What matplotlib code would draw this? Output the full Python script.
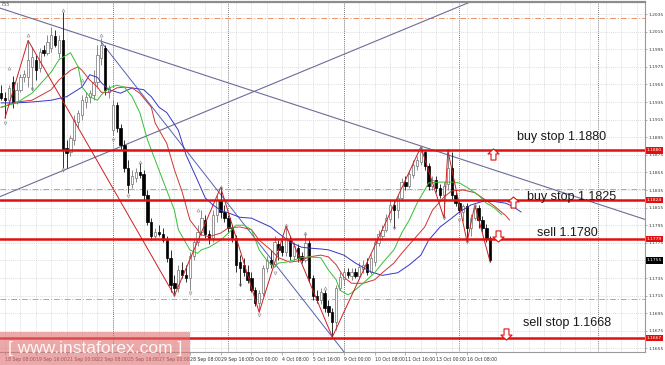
import matplotlib
matplotlib.use("Agg")
import matplotlib.pyplot as plt
import matplotlib.transforms as mtrans
from matplotlib.patches import Rectangle
from matplotlib.path import Path
import numpy as np

# ─── DATOS (EURUSD H4) ─────────────────────────────────────────────────────
first_bar = -1
opens = [1.1945, 1.1940, 1.1937, 1.1958, 1.1935, 1.1949, 1.1963, 1.1963, 1.1975, 1.1983,
         1.1974, 1.1994, 1.1991, 1.1996, 1.2010, 1.1991, 1.2005, 1.1883, 1.1878, 1.1892,
         1.1912, 1.1920, 1.1935, 1.1941, 1.1943, 1.1958, 1.1985, 1.1996, 1.1946, 1.1903,
         1.1932, 1.1905, 1.1886, 1.1860, 1.1842, 1.1849, 1.1855, 1.1853, 1.1829, 1.1799,
         1.1783, 1.1787, 1.1785, 1.1778, 1.1758, 1.1729, 1.1724, 1.1744, 1.1738, 1.1735,
         1.1760, 1.1776, 1.1787, 1.1801, 1.1785, 1.1780, 1.1807, 1.1824, 1.1810, 1.1803,
         1.1792, 1.1780, 1.1753, 1.1750, 1.1742, 1.1735, 1.1721, 1.1707, 1.1718, 1.1746,
         1.1755, 1.1751, 1.1774, 1.1771, 1.1765, 1.1778, 1.1760, 1.1769, 1.1760, 1.1755,
         1.1775, 1.1735, 1.1715, 1.1710, 1.1718, 1.1703, 1.1696, 1.1685, 1.1724, 1.1734,
         1.1742, 1.1737, 1.1742, 1.1737, 1.1745, 1.1751, 1.1742, 1.1753, 1.1775, 1.1783,
         1.1790, 1.1802, 1.1818, 1.1812, 1.1826, 1.1844, 1.1840, 1.1852, 1.1862, 1.1867,
         1.1878, 1.1862, 1.1840, 1.1846, 1.1837, 1.1829, 1.1842, 1.1860, 1.1829, 1.1820,
         1.1810, 1.1817, 1.1792, 1.1803, 1.1815, 1.1801, 1.1792, 1.1780]
highs = [1.1954, 1.1946, 1.1954, 1.1965, 1.1958, 1.1967, 1.1971, 1.2005, 1.1997, 1.1988,
         1.1996, 1.2000, 1.2011, 1.2020, 1.2017, 1.2011, 1.2037, 1.1892, 1.1897, 1.1920,
         1.1926, 1.1943, 1.1946, 1.1949, 1.1971, 1.2000, 1.2008, 1.2000, 1.1954, 1.1937,
         1.1935, 1.1910, 1.1892, 1.1869, 1.1858, 1.1860, 1.1866, 1.1858, 1.1835, 1.1803,
         1.1792, 1.1795, 1.1792, 1.1783, 1.1767, 1.1738, 1.1750, 1.1753, 1.1750, 1.1765,
         1.1780, 1.1795, 1.1812, 1.1807, 1.1790, 1.1812, 1.1829, 1.1838, 1.1818, 1.1807,
         1.1795, 1.1784, 1.1761, 1.1758, 1.1750, 1.1742, 1.1725, 1.1721, 1.1750, 1.1760,
         1.1767, 1.1783, 1.1778, 1.1778, 1.1794, 1.1783, 1.1776, 1.1774, 1.1765, 1.1786,
         1.1780, 1.1738, 1.1721, 1.1724, 1.1721, 1.1710, 1.1701, 1.1727, 1.1742, 1.1746,
         1.1746, 1.1746, 1.1746, 1.1753, 1.1755, 1.1758, 1.1762, 1.1780, 1.1790, 1.1795,
         1.1808, 1.1824, 1.1824, 1.1829, 1.1849, 1.1851, 1.1858, 1.1869, 1.1874, 1.1884,
         1.1880, 1.1866, 1.1851, 1.1851, 1.1842, 1.1844, 1.1880, 1.1878, 1.1833, 1.1824,
         1.1819, 1.1820, 1.1808, 1.1818, 1.1818, 1.1806, 1.1796, 1.1783]
lows = [1.1937, 1.1917, 1.1933, 1.1928, 1.1933, 1.1946, 1.1958, 1.1952, 1.1949, 1.1960,
        1.1969, 1.1987, 1.1988, 1.1992, 1.1997, 1.1985, 1.1860, 1.1860, 1.1874, 1.1886,
        1.1905, 1.1915, 1.1928, 1.1934, 1.1937, 1.1951, 1.1977, 1.1943, 1.1940, 1.1897,
        1.1901, 1.1880, 1.1855, 1.1832, 1.1837, 1.1844, 1.1849, 1.1824, 1.1795, 1.1778,
        1.1778, 1.1783, 1.1776, 1.1753, 1.1719, 1.1715, 1.1719, 1.1735, 1.1730, 1.1721,
        1.1755, 1.1771, 1.1784, 1.1780, 1.1774, 1.1776, 1.1799, 1.1803, 1.1799, 1.1787,
        1.1776, 1.1742, 1.1726, 1.1737, 1.1729, 1.1719, 1.1703, 1.1696, 1.1715, 1.1742,
        1.1746, 1.1749, 1.1755, 1.1760, 1.1760, 1.1755, 1.1755, 1.1753, 1.1752, 1.1753,
        1.1730, 1.1710, 1.1707, 1.1706, 1.1696, 1.1692, 1.1668, 1.1676, 1.1721, 1.1727,
        1.1735, 1.1733, 1.1735, 1.1734, 1.1741, 1.1738, 1.1740, 1.1749, 1.1771, 1.1778,
        1.1787, 1.1799, 1.1792, 1.1803, 1.1824, 1.1835, 1.1837, 1.1849, 1.1858, 1.1863,
        1.1858, 1.1835, 1.1835, 1.1833, 1.1826, 1.1803, 1.1835, 1.1824, 1.1817, 1.1809,
        1.1800, 1.1776, 1.1783, 1.1801, 1.1792, 1.1787, 1.1776, 1.1753]
closes = [1.1940, 1.1937, 1.1951, 1.1934, 1.1949, 1.1963, 1.1967, 1.1983, 1.1986, 1.1971,
          1.1992, 1.1991, 1.2003, 1.2011, 1.2000, 1.2005, 1.1880, 1.1877, 1.1894, 1.1915,
          1.1923, 1.1937, 1.1941, 1.1945, 1.1958, 1.1988, 1.2000, 1.1949, 1.1951, 1.1932,
          1.1905, 1.1886, 1.1860, 1.1841, 1.1851, 1.1855, 1.1852, 1.1829, 1.1799, 1.1783,
          1.1787, 1.1785, 1.1778, 1.1758, 1.1727, 1.1724, 1.1744, 1.1738, 1.1735, 1.1760,
          1.1776, 1.1787, 1.1803, 1.1785, 1.1780, 1.1807, 1.1824, 1.1810, 1.1803, 1.1792,
          1.1780, 1.1750, 1.1746, 1.1742, 1.1733, 1.1721, 1.1707, 1.1718, 1.1746, 1.1755,
          1.1751, 1.1776, 1.1767, 1.1765, 1.1780, 1.1760, 1.1771, 1.1758, 1.1755, 1.1775,
          1.1735, 1.1715, 1.1710, 1.1719, 1.1701, 1.1696, 1.1685, 1.1724, 1.1736, 1.1742,
          1.1738, 1.1742, 1.1737, 1.1747, 1.1750, 1.1742, 1.1758, 1.1776, 1.1785, 1.1790,
          1.1803, 1.1818, 1.1812, 1.1826, 1.1844, 1.1840, 1.1853, 1.1863, 1.1869, 1.1878,
          1.1862, 1.1840, 1.1846, 1.1837, 1.1829, 1.1840, 1.1860, 1.1829, 1.1820, 1.1812,
          1.1817, 1.1792, 1.1803, 1.1815, 1.1801, 1.1792, 1.1780, 1.1755]

# Alligator (barra, precio)
lips_bar = [-1, 3, 7, 12, 14, 17, 19, 20, 22, 24, 25, 27, 29, 31, 33, 35, 37, 39, 41, 44,
            45, 48, 50, 51, 53, 56, 58, 60, 62, 64, 66, 68, 70, 71, 73, 77, 79, 82, 84, 86,
            87, 89, 90, 93, 96, 98, 101, 103, 105, 107, 109, 110, 113, 116, 118, 120, 123,
            125, 127, 129]
lips_val = [1.1929, 1.1934, 1.1945, 1.1969, 1.1983, 1.1991, 1.1975, 1.1952, 1.1941, 1.1937,
            1.1943, 1.1951, 1.1954, 1.1952, 1.1941, 1.1923, 1.1892, 1.1869, 1.1846, 1.1812,
            1.1790, 1.1767, 1.1763, 1.1767, 1.1770, 1.1778, 1.1786, 1.1795, 1.1795, 1.1790,
            1.1767, 1.1755, 1.1747, 1.1752, 1.1753, 1.1758, 1.1759, 1.1758, 1.1744, 1.1733,
            1.1721, 1.1716, 1.1718, 1.1729, 1.1741, 1.1752, 1.1767, 1.1786, 1.1801, 1.1820,
            1.1835, 1.1843, 1.1844, 1.1844, 1.1843, 1.1838, 1.1829, 1.1820, 1.1815, 1.1807]
teeth_bar = [-1, 3, 7, 12, 14, 17, 19, 20, 22, 24, 25, 27, 29, 31, 33, 35, 38, 39, 42, 44,
             46, 48, 51, 53, 56, 58, 61, 64, 66, 69, 71, 74, 77, 79, 82, 84, 86, 88, 90, 93,
             96, 98, 101, 103, 106, 109, 111, 114, 116, 119, 122, 124, 127, 130, 131]
teeth_val = [1.1929, 1.1935, 1.1937, 1.1949, 1.1960, 1.1971, 1.1975, 1.1971, 1.1960, 1.1952,
             1.1946, 1.1946, 1.1951, 1.1952, 1.1951, 1.1945, 1.1929, 1.1911, 1.1888, 1.1858,
             1.1833, 1.1801, 1.1784, 1.1782, 1.1786, 1.1792, 1.1793, 1.1790, 1.1778, 1.1767,
             1.1758, 1.1753, 1.1755, 1.1759, 1.1761, 1.1759, 1.1750, 1.1736, 1.1729, 1.1729,
             1.1733, 1.1741, 1.1752, 1.1763, 1.1778, 1.1793, 1.1812, 1.1827, 1.1834, 1.1835,
             1.1832, 1.1826, 1.1817, 1.1806, 1.1801]
jaw_bar = [-1, 3, 7, 12, 16, 20, 22, 24, 25, 27, 30, 33, 36, 38, 40, 42, 45, 47, 50, 52,
           54, 56, 58, 61, 64, 66, 69, 71, 74, 77, 79, 82, 84, 88, 91, 95, 98, 102, 105, 108,
           110, 113, 116, 118, 121, 124, 127, 130, 132, 134]
jaw_val = [1.1934, 1.1934, 1.1935, 1.1937, 1.1941, 1.1952, 1.1966, 1.1963, 1.1957, 1.1949,
           1.1945, 1.1951, 1.1949, 1.1941, 1.1929, 1.1923, 1.1903, 1.1875, 1.1846, 1.1826,
           1.1818, 1.1812, 1.1809, 1.1804, 1.1803, 1.1799, 1.1793, 1.1786, 1.1776, 1.1770,
           1.1769, 1.1768, 1.1767, 1.1761, 1.1752, 1.1742, 1.1738, 1.1741, 1.1750, 1.1761,
           1.1778, 1.1793, 1.1803, 1.1810, 1.1818, 1.1822, 1.1822, 1.1820, 1.1816, 1.1810]

# ZigZag
zz_bar = [0, 6, 44, 56, 66, 73, 85, 108, 114, 115, 120, 122, 126]
zz_val = [1.1917, 1.2005, 1.1715, 1.1838, 1.1696, 1.1794, 1.1668, 1.1884, 1.1803, 1.1880,
          1.1776, 1.1818, 1.1753]

# Fractales
frac_up_bar = [1, 6, 15, 20, 25, 35, 50, 56, 73, 78, 83, 108, 115, 122]
frac_up_val = [1.1974, 1.2011, 1.2040, 1.1960, 1.2011, 1.1867, 1.1812, 1.1838, 1.1795,
               1.1786, 1.1724, 1.1884, 1.1880, 1.1818]
frac_dn_bar = [0, 7, 15, 28, 32, 44, 48, 61, 66, 70, 101, 114, 118, 120]
frac_dn_val = [1.1911, 1.1950, 1.1858, 1.1892, 1.1828, 1.1716, 1.1718, 1.1727, 1.1693,
               1.1741, 1.1792, 1.1803, 1.1801, 1.1776]

# Líneas de tendencia (barra, precio)
trend_down = [(25, 1.2004), (108, 1.1885)]
trend_up = [(15, 1.1857), (121, 1.2049)]
trend_steep_bar = [25, 90]
trend_steep_val = [1.2003, 1.1640]

# Niveles
order_levels = [1.1880, 1.1824, 1.1779, 1.1667]
order_texts = ["buy stop 1.1880", "buy stop 1.1825", "sell 1.1780", "sell stop 1.1668"]
order_text_bar = [133.0, 135.6, 138.2, 134.5]
order_text_val = [1.1895, 1.1827, 1.1786, 1.1684]
arrow_bar = [126.8, 132.0, 128.0, 130.1]
arrow_val = [1.1876, 1.1821, 1.1783, 1.1671]
arrow_dir = ["up", "up", "down", "down"]
fibo_levels = [1.2030, 1.1836, 1.1711]
last_price = 1.1755

price_ticks = [1.2035, 1.2015, 1.1995, 1.1975, 1.1955, 1.1935, 1.1915, 1.1895, 1.1875,
               1.1855, 1.1835, 1.1815, 1.1795, 1.1775, 1.1755, 1.1735, 1.1715, 1.1695,
               1.1675, 1.1655]
time_labels = ["18 Sep 08:00", "19 Sep 16:00", "21 Sep 00:00", "22 Sep 08:00",
               "25 Sep 16:00", "27 Sep 00:00", "28 Sep 08:00", "29 Sep 16:00",
               "3 Oct 00:00", "4 Oct 08:00", "5 Oct 16:00", "9 Oct 00:00",
               "10 Oct 08:00", "11 Oct 16:00", "13 Oct 00:00", "16 Oct 08:00"]
separators = [28, 58, 88, 118, 154]

# flechas huecas (estilo MT4)
UP_ARROW = Path([(-0.22, -0.5), (0.22, -0.5), (0.22, 0.05), (0.5, 0.05), (0.0, 0.5),
                 (-0.5, 0.05), (-0.22, 0.05), (-0.22, -0.5)], closed=True)
DOWN_ARROW = Path([(x, -y) for x, y in UP_ARROW.vertices], closed=True)

# ─── FIGURA ────────────────────────────────────────────────────────────────
W, H = 665, 365
fig = plt.figure(figsize=(W / 100, H / 100), dpi=100)
ax = fig.add_axes([0, 13 / H, 645 / W, 350 / H])
ax.set_xlim(-1.3, 166.2)
ax.set_ylim(1.165091, 1.204864)

# rejilla
for b in range(0, 167, 4):
    ax.axvline(b, color="#d2d2d2", lw=0.5, ls=(0, (1.5, 1.5)), zorder=0)
for p in price_ticks:
    ax.axhline(p, color="#d2d2d2", lw=0.5, ls=(0, (1.5, 1.5)), zorder=0)
for s in separators:
    ax.axvline(s, color="#555555", lw=0.6, ls=(0, (1, 1.5)), zorder=0.5)

# niveles fibo / naranja
for p in fibo_levels:
    ax.axhline(p, color="#e8956a", lw=0.7, ls=(0, (6, 2, 1, 2)), zorder=1)

# líneas de tendencia
ax.axline(trend_down[0], trend_down[1], color="#6c6c98", lw=0.8, zorder=2)
ax.axline(trend_up[0], trend_up[1], color="#6c6c98", lw=0.8, zorder=2)
ax.plot(trend_steep_bar, trend_steep_val, color="#5460b0", lw=0.7, zorder=2)

# velas
bars = np.arange(first_bar, first_bar + len(opens))
o, h, l, c = map(np.array, (opens, highs, lows, closes))
bull = c >= o
ax.vlines(bars[bull], l[bull], h[bull], color="#777777", lw=0.6, zorder=3)
ax.vlines(bars[~bull], l[~bull], h[~bull], color="#111111", lw=0.6, zorder=3)
body_lo = np.minimum(o, c)
body_h = np.maximum(np.abs(c - o), 0.00004)
ax.bar(bars[bull], body_h[bull], bottom=body_lo[bull], width=0.6,
       color="white", edgecolor="#707070", linewidth=0.5, zorder=4)
ax.bar(bars[~bull], body_h[~bull], bottom=body_lo[~bull], width=0.6,
       color="black", edgecolor="black", linewidth=0.5, zorder=4)

# alligator + zigzag
ax.plot(jaw_bar, jaw_val, color="#3535c8", lw=0.7, zorder=5)
ax.plot(teeth_bar, teeth_val, color="#d03535", lw=0.7, zorder=5)
ax.plot(lips_bar, lips_val, color="#35c035", lw=0.7, zorder=5)
ax.plot(zz_bar, zz_val, color="#cc2020", lw=0.7, zorder=5)

ax.plot(frac_up_bar, frac_up_val, ls="none", marker="^", ms=2.2, mfc="none",
        mec="#8a8a8a", mew=0.4, zorder=5)
ax.plot(frac_dn_bar, frac_dn_val, ls="none", marker="v", ms=2.2, mfc="none",
        mec="#8a8a8a", mew=0.4, zorder=5)

# órdenes
for p in order_levels:
    ax.axhline(p, color="#e01010", lw=1.8, zorder=6)
for txt, xb, yv in zip(order_texts, order_text_bar, order_text_val):
    ax.text(xb, yv, txt, fontsize=9, family="Liberation Sans", color="#1a1a1a",
            ha="left", va="center", zorder=8)
for xb, yv, d in zip(arrow_bar, arrow_val, arrow_dir):
    ax.plot([xb], [yv], ls="none", marker=UP_ARROW if d == "up" else DOWN_ARROW,
            ms=8, mfc="white", mec="#e01010", mew=0.8, zorder=7)

# ejes
ax.spines["left"].set_visible(False)
ax.spines["top"].set_color("#8c8c8c")
ax.spines["top"].set_linewidth(1.6)
ax.spines["right"].set_color("#9a9a9a")
ax.spines["bottom"].set_color("#9a9a9a")
ax.spines["right"].set_linewidth(0.8)
ax.spines["bottom"].set_linewidth(0.8)

ax.yaxis.tick_right()
ax.set_yticks(price_ticks)
ax.set_yticklabels(["" if p == last_price else f"{p:.4f}" for p in price_ticks],
                   fontsize=3.2, color="#333333")
ax.tick_params(axis="y", length=1.2, width=0.4, color="#777777", pad=1)
ax.set_xticks(range(0, 121, 8))
ax.set_xticklabels(time_labels, fontsize=3.3, color="#333333", ha="left")
ax.tick_params(axis="x", length=2, width=0.4, color="#777777", pad=1.5)

blend = mtrans.blended_transform_factory(ax.transAxes, ax.transData)
for p in order_levels:
    ax.text(1.003, p, f"{p:.4f}", transform=blend, fontsize=3.2, color="white",
            ha="left", va="center", clip_on=False, zorder=9,
            bbox=dict(boxstyle="square,pad=0.25", fc="#e01010", ec="none"))
ax.text(1.003, last_price, f"{last_price:.4f}", transform=blend, fontsize=3.2,
        color="white", ha="left", va="center", clip_on=False, zorder=9,
        bbox=dict(boxstyle="square,pad=0.25", fc="black", ec="none"))

fig.text(0.001, 1 - 5 / H, "755", fontsize=3.5, color="#555555", va="center")

# marca de agua
fig.add_artist(Rectangle((0, 0), 190 / W, 33 / H, transform=fig.transFigure,
                         facecolor="#e07070", alpha=0.6, edgecolor="none", zorder=20))
fig.text(95 / W, 16 / H, "[ www.instaforex.com ]", fontsize=12.5, color="white",
         alpha=0.9, ha="center", va="center", family="Liberation Sans", zorder=21)

fig.savefig("out.png", dpi=100)
